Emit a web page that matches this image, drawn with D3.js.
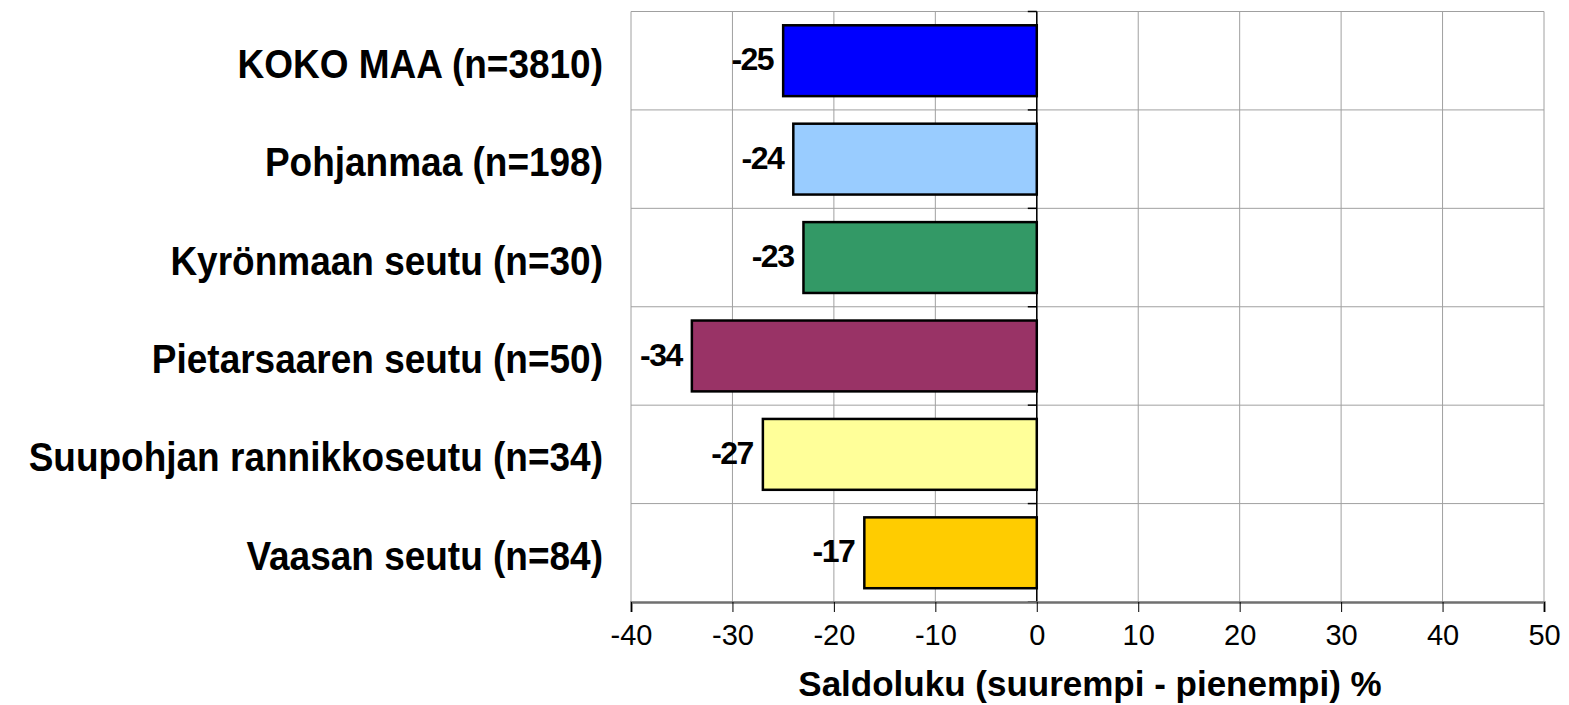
<!DOCTYPE html>
<html><head><meta charset="utf-8">
<script src="https://cdn.jsdelivr.net/npm/d3@7"></script>
<style>body{margin:0;background:#fff}svg{display:block}</style>
</head><body>
<svg id="c" width="1569" height="705"></svg>
<script>
const categories = ["KOKO MAA (n=3810)","Pohjanmaa (n=198)","Kyrönmaan seutu (n=30)","Pietarsaaren seutu (n=50)","Suupohjan rannikkoseutu (n=34)","Vaasan seutu (n=84)"];
const values = [-25,-24,-23,-34,-27,-17];
const colors = ["#0000FF","#99CCFF","#339966","#993366","#FFFF99","#FFCC00"];
const tickValues = [-40,-30,-20,-10,0,10,20,30,40,50];
const axisTitle = "Saldoluku (suurempi - pienempi) %";

const FONT = "'Liberation Sans', Arial, sans-serif";
const svg = d3.select("#c");
const m = {l:631, r:1544, t:11.5, b:602};
const x = d3.scaleLinear().domain([-40,50]).range([m.l,m.r]);
const y = d3.scaleBand().domain(categories).range([m.t,m.b]).paddingInner(0.28).paddingOuter(0.14);

const g = svg.append("g");
g.selectAll(".vg").data(tickValues).enter().append("line")
  .attr("x1",d=>x(d)).attr("x2",d=>x(d)).attr("y1",m.t).attr("y2",m.b)
  .attr("stroke","#a0a0a0").attr("stroke-width",1);
const bounds = d3.range(categories.length+1).map(i=>m.t+i*(m.b-m.t)/categories.length);
g.selectAll(".hg").data(bounds.slice(0,-1)).enter().append("line")
  .attr("x1",m.l).attr("x2",m.r).attr("y1",d=>d).attr("y2",d=>d)
  .attr("stroke","#a0a0a0").attr("stroke-width",1);

g.selectAll(".bar").data(values).enter().append("rect")
  .attr("x",d=>x(Math.min(0,d))).attr("width",d=>Math.abs(x(d)-x(0)))
  .attr("y",(d,i)=>y(categories[i])).attr("height",y.bandwidth())
  .attr("fill",(d,i)=>colors[i]).attr("stroke","#000").attr("stroke-width",2.5);

g.append("line").attr("x1",x(0)).attr("x2",x(0)).attr("y1",m.t).attr("y2",m.b).attr("stroke","#000").attr("stroke-width",1.5);
g.selectAll(".zt").data(bounds).enter().append("line")
  .attr("x1",x(0)-9).attr("x2",x(0)).attr("y1",d=>d).attr("y2",d=>d).attr("stroke","#000").attr("stroke-width",1.5);

const ax = d3.axisBottom(x).tickValues(tickValues).tickSize(10).tickPadding(12).tickFormat(d3.format("d"));
const axg = svg.append("g").attr("transform",`translate(0,${m.b})`).call(ax);
axg.select(".domain").attr("stroke","#707070").attr("stroke-width",2.5);
axg.selectAll(".tick line").attr("stroke","#000").attr("stroke-width",1);
axg.selectAll(".tick text").attr("font-family",FONT).attr("font-size",29).attr("fill","#000").text(d=>d<0?"-"+Math.abs(d):d);

svg.selectAll(".cl").data(categories).enter().append("text")
  .attr("transform",d=>`translate(603,${y(d)+y.bandwidth()/2+17}) scale(1,1.1)`)
  .attr("text-anchor","end").attr("font-family",FONT)
  .attr("font-weight","bold").attr("font-size",37).text(d=>d);

svg.selectAll(".vl").data(values).enter().append("text")
  .attr("x",d=>x(d)-10).attr("y",(d,i)=>y(categories[i])+y.bandwidth()/2-1.5).attr("dy","0.35em")
  .attr("text-anchor","end").attr("font-family",FONT)
  .attr("font-weight","bold").attr("font-size",32).attr("letter-spacing",-1.5).text(d=>d);

svg.append("text").attr("x",(800+1380)/2).attr("y",696).attr("text-anchor","middle")
  .attr("font-family",FONT).attr("font-weight","bold").attr("font-size",35).text(axisTitle);
</script>
</body></html>
